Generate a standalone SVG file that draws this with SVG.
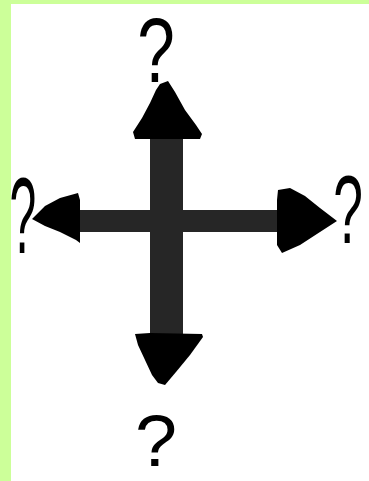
<svg xmlns="http://www.w3.org/2000/svg" width="369" height="481" viewBox="0 0 369 481">
<style>
.bar{fill:#262626}
.head{fill:#000}
.q{font-family:"Liberation Sans",Arial,sans-serif;fill:#000;text-anchor:middle}
</style>
<rect x="0" y="0" width="369" height="481" fill="#ccff99"/>
<rect x="11" y="4" width="358" height="477" fill="#ffffff"/>
<g id="connectors">
<rect class="bar" x="150" y="134" width="33" height="204"/>
<rect class="bar" x="76" y="210" width="206" height="22"/>
<polygon class="head" points="160,84 168,81 175,92 185,110 196,125 202,134 200,139 135,139 133,132 142,118 150,103 156,90"/>
<polygon class="head" points="32,219 45,206 60,198 78,193 80,200 80,243 76,240 60,232 45,226"/>
<polygon class="head" points="278,190 290,188 305,196 320,208 337,221 320,232 300,245 282,253 277,245 277,200"/>
<polygon class="head" points="135,334 150,333 202,334 203,337 190,355 176,372 165,385 158,383 152,375 145,360 138,345"/>
</g>
<g id="q-top"><text class="q" transform="translate(156,82) scale(0.75,1)" font-size="90">?</text></g>
<g id="q-left"><text class="q" transform="translate(23,253) scale(0.45,1)" font-size="107">?</text></g>
<g id="q-right"><text class="q" transform="translate(348,243) scale(0.55,1)" font-size="97">?</text></g>
<g id="q-bottom"><text class="q" transform="translate(156,466) scale(1.05,1)" font-size="72">?</text></g>
</svg>
